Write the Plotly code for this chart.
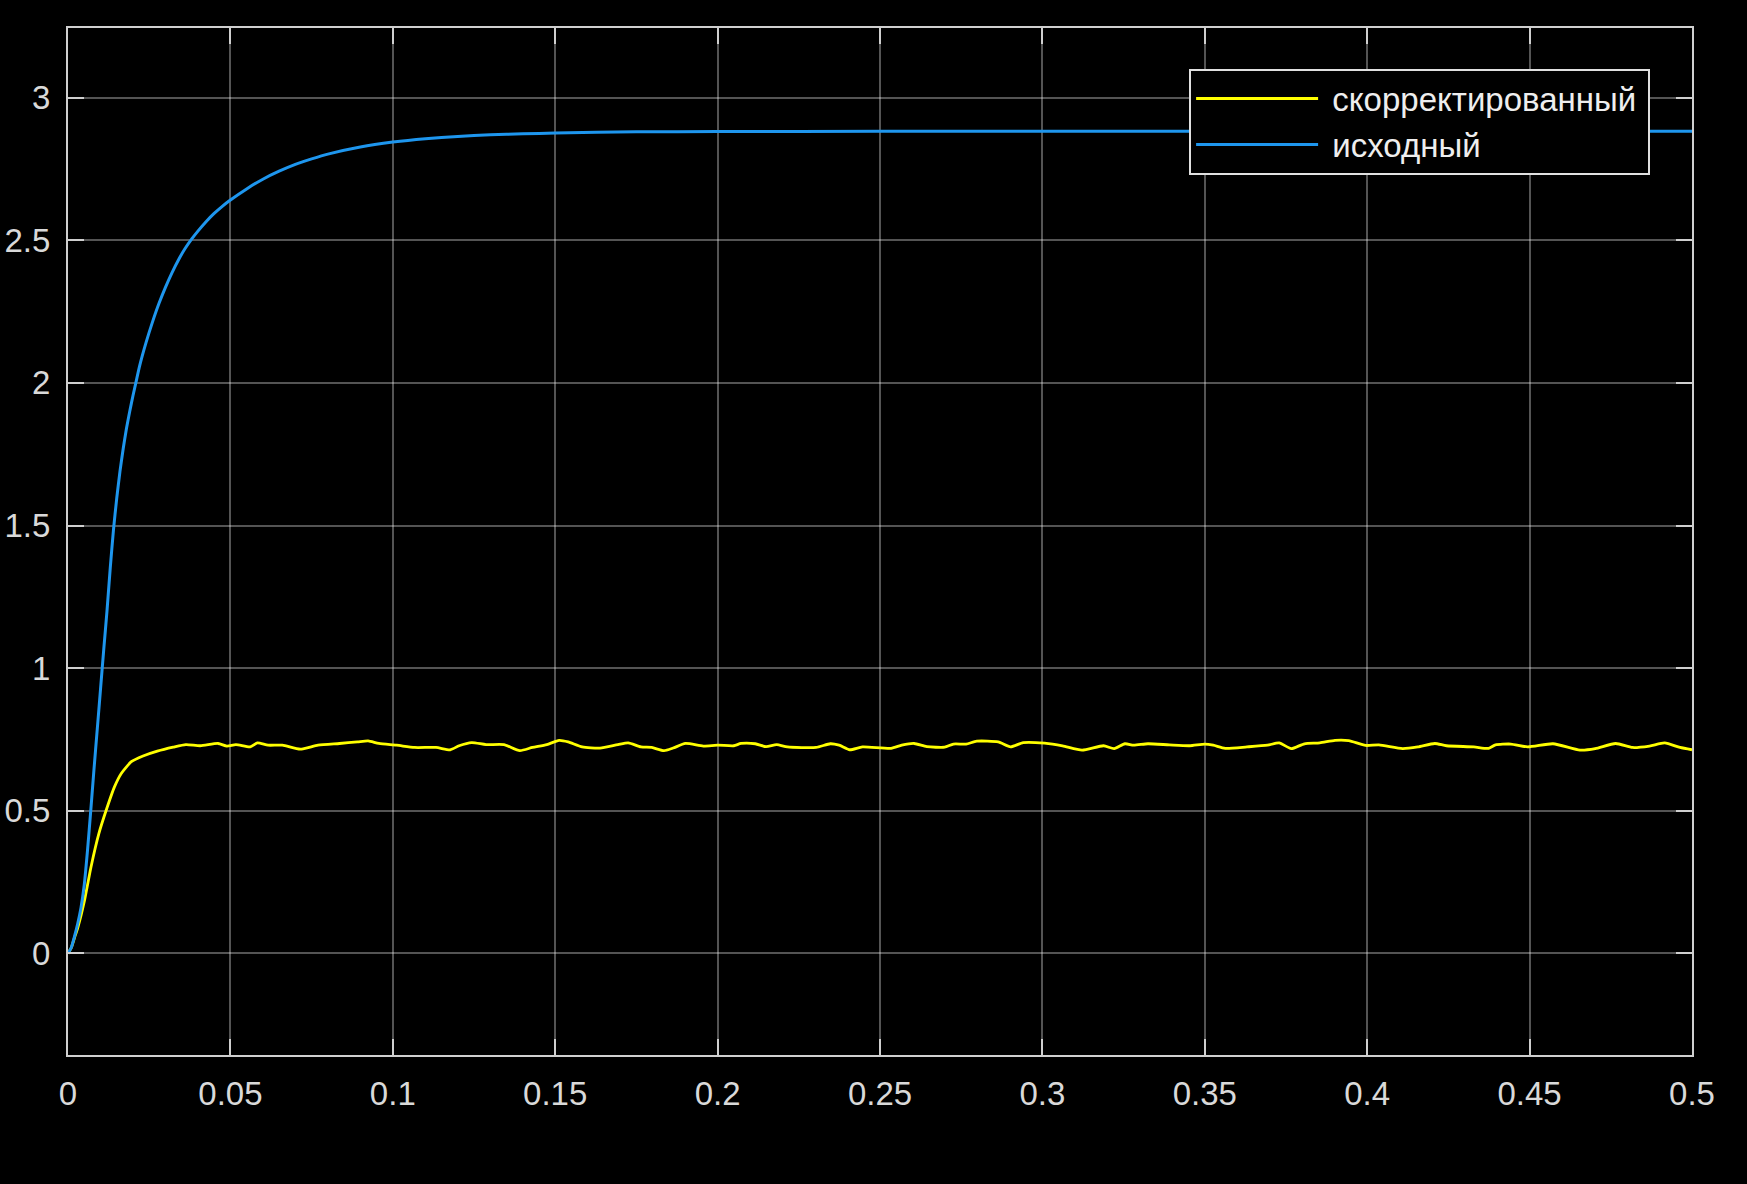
import plotly.graph_objects as go

# ---- data ----
t_orig = [0, 0.001, 0.002, 0.003, 0.004, 0.005, 0.006, 0.007, 0.008, 0.009, 0.010, 0.011,
          0.012, 0.013, 0.014, 0.015, 0.016, 0.017, 0.018, 0.019, 0.020, 0.021, 0.022, 0.024,
          0.026, 0.028, 0.030, 0.032, 0.034, 0.036, 0.038, 0.040, 0.0425, 0.045, 0.0475, 0.05,
          0.055, 0.06, 0.065, 0.07, 0.075, 0.08, 0.09, 0.1, 0.11, 0.12, 0.13, 0.14, 0.15,
          0.175, 0.2, 0.25, 0.3, 0.35, 0.4, 0.45, 0.5]
y_orig = [0, 0.02, 0.06, 0.105, 0.16, 0.24, 0.36, 0.50, 0.645, 0.785, 0.925, 1.065,
          1.20, 1.35, 1.485, 1.595, 1.69, 1.77, 1.84, 1.90, 1.955, 2.006, 2.057, 2.140,
          2.213, 2.278, 2.335, 2.386, 2.431, 2.470, 2.503, 2.532, 2.565, 2.594, 2.619, 2.641,
          2.680, 2.714, 2.742, 2.766, 2.785, 2.802, 2.827, 2.844, 2.856, 2.864, 2.870, 2.873, 2.876,
          2.880, 2.881, 2.882, 2.882, 2.882, 2.882, 2.882, 2.882]

t_corr = [0, 0.001, 0.002, 0.003, 0.0051, 0.0071, 0.0095, 0.0117, 0.0143, 0.0164, 0.0195, 0.0231,
          0.0275, 0.0324, 0.0363, 0.0407, 0.0462, 0.0489, 0.0517, 0.0561, 0.0583, 0.0616, 0.066,
          0.0715, 0.077, 0.0836, 0.0891, 0.0924, 0.0957, 0.1012, 0.1067, 0.1133, 0.1177, 0.1204,
          0.1243, 0.1287, 0.1342, 0.1391, 0.143, 0.1474, 0.1512, 0.154, 0.1583, 0.1638, 0.1693,
          0.1725, 0.1764, 0.1797, 0.1835, 0.1863, 0.1901, 0.1956, 0.2, 0.205, 0.2072, 0.2116,
          0.2149, 0.2182, 0.2215, 0.2303, 0.2347, 0.2374, 0.2407, 0.2446, 0.2534, 0.2567, 0.2605,
          0.2644, 0.2699, 0.2726, 0.2765, 0.2798, 0.2864, 0.2902, 0.2941, 0.3007, 0.3062, 0.3122,
          0.3188, 0.3221, 0.3254, 0.3281, 0.3325, 0.3391, 0.3453, 0.35, 0.3526, 0.3563, 0.363,
          0.3693, 0.3729, 0.3766, 0.3807, 0.3854, 0.3901, 0.3943, 0.3995, 0.4036, 0.4109, 0.4156,
          0.4208, 0.4244, 0.4328, 0.4374, 0.4395, 0.4442, 0.4494, 0.4572, 0.4655, 0.4702, 0.4765,
          0.4817, 0.4869, 0.4916, 0.4963, 0.5]
y_corr = [0, 0.02, 0.055, 0.09, 0.187, 0.304, 0.42, 0.5, 0.584, 0.631, 0.672, 0.692,
          0.709, 0.723, 0.732, 0.728, 0.736, 0.727, 0.732, 0.724, 0.738, 0.730, 0.730,
          0.716, 0.730, 0.736, 0.7415, 0.745, 0.736, 0.730, 0.722, 0.722, 0.714, 0.728,
          0.739, 0.732, 0.732, 0.711, 0.722, 0.732, 0.747, 0.7415, 0.724, 0.720, 0.732,
          0.738, 0.724, 0.722, 0.711, 0.720, 0.736, 0.727, 0.730, 0.728, 0.736, 0.735,
          0.725, 0.732, 0.724, 0.722, 0.735, 0.730, 0.714, 0.724, 0.719, 0.730, 0.736,
          0.725, 0.723, 0.734, 0.734, 0.744, 0.7415, 0.724, 0.739, 0.737, 0.728, 0.713,
          0.728, 0.718, 0.735, 0.730, 0.735, 0.731, 0.728, 0.734, 0.730, 0.719, 0.724,
          0.730, 0.738, 0.718, 0.735, 0.738, 0.747, 0.746, 0.729, 0.731, 0.718, 0.724,
          0.736, 0.728, 0.724, 0.719, 0.731, 0.734, 0.724, 0.735, 0.713, 0.718, 0.736,
          0.722, 0.727, 0.738, 0.722, 0.714]

x_ticks = [0, 0.05, 0.1, 0.15, 0.2, 0.25, 0.3, 0.35, 0.4, 0.45, 0.5]
x_tick_labels = ['0', '0.05', '0.1', '0.15', '0.2', '0.25', '0.3', '0.35', '0.4', '0.45', '0.5']
y_ticks = [0, 0.5, 1, 1.5, 2, 2.5, 3]
y_tick_labels = ['0', '0.5', '1', '1.5', '2', '2.5', '3']

series_names = ['скорректированный', 'исходный']

FONT = 'Liberation Sans, Arial, Helvetica, sans-serif'
TXT = '#d9d9d9'
AX = '#cfcfcf'
GRID = 'rgba(255,255,255,0.33)'
NBSP = '\u00a0'
THIN = '\u2009'

fig = go.Figure()
fig.add_trace(go.Scatter(x=t_corr, y=y_corr, name=NBSP + series_names[0] + THIN, mode='lines',
                         line=dict(color='#ffff00', width=2.8, shape='spline', smoothing=0.6)))
fig.add_trace(go.Scatter(x=t_orig, y=y_orig, name=NBSP + series_names[1] + THIN, mode='lines',
                         line=dict(color='#1e96ee', width=3, shape='spline', smoothing=0.5)))

axis_common = dict(
    showline=True, linecolor=AX, linewidth=2, mirror='allticks',
    ticks='inside', ticklen=16, tickwidth=2, tickcolor=AX,
    showgrid=True, gridcolor=GRID, gridwidth=1.5, zeroline=False,
    automargin=False,
    tickfont=dict(family=FONT, size=33, color=TXT),
)

fig.update_xaxes(range=[0, 0.5], tickmode='array', tickvals=x_ticks, ticktext=x_tick_labels,
                 ticklabelstandoff=8, **axis_common)
fig.update_yaxes(range=[-0.356, 3.244], tickmode='array', tickvals=y_ticks, ticktext=y_tick_labels,
                 ticklabelstandoff=9, **axis_common)

fig.update_layout(
    width=1747, height=1184,
    margin=dict(l=68, r=55, t=28, b=129),
    paper_bgcolor='black', plot_bgcolor='black',
    font=dict(family=FONT, size=33, color=TXT),
    showlegend=True,
    legend=dict(x=0.9742, xanchor='right', y=0.9605, yanchor='top',
                bgcolor='black', bordercolor='#e0e0e0', borderwidth=2,
                font=dict(family=FONT, size=33, color='#eeeeee'),
                itemwidth=122, tracegroupgap=0),
)

fig.write_html('out.html', config={'displayModeBar': False},
               post_script="document.body.style.margin='0';document.body.style.background='black';")
